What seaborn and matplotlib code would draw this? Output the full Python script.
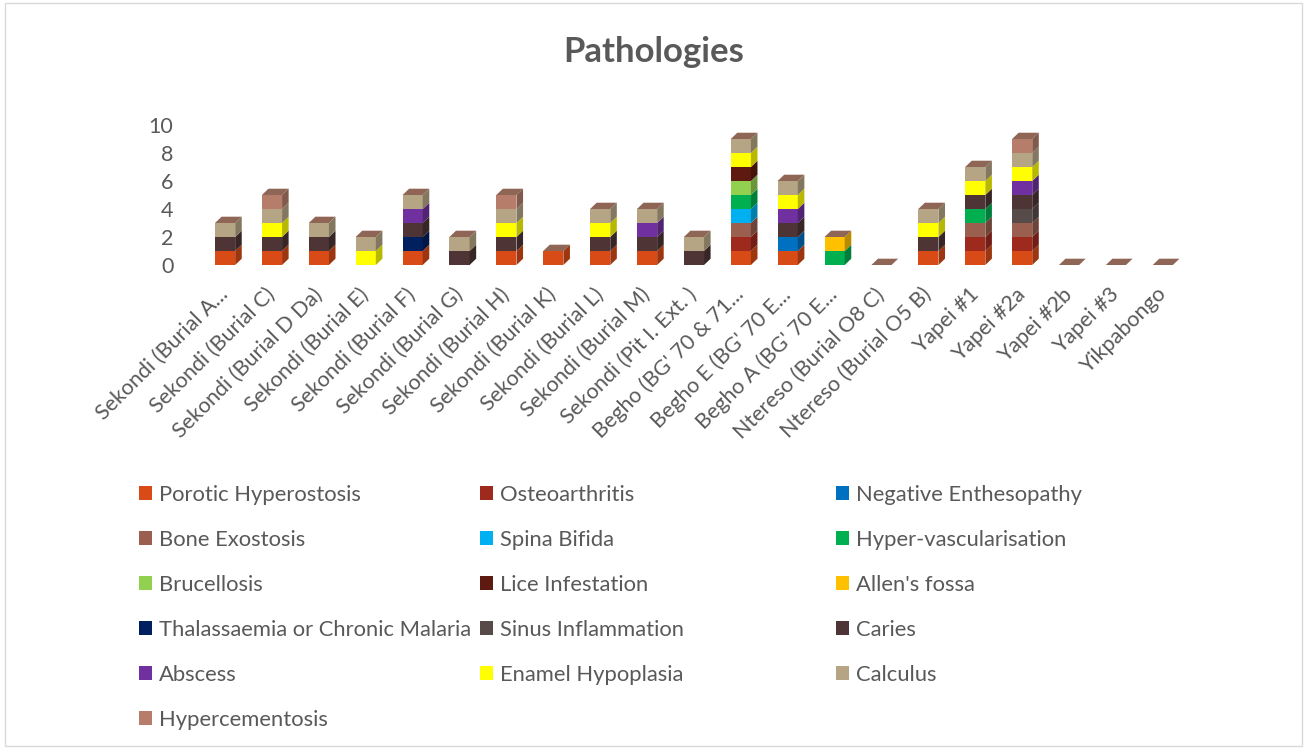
import numpy as np
import pandas as pd
import matplotlib
matplotlib.use("Agg")
import matplotlib.pyplot as plt
import matplotlib.colors as mcolors
from matplotlib.patches import Patch, Polygon, Rectangle
import seaborn as sns

SITES = [
    "Sekondi (Burial A...", "Sekondi (Burial C)", "Sekondi (Burial D Da)",
    "Sekondi (Burial E)", "Sekondi (Burial F)", "Sekondi (Burial G)",
    "Sekondi (Burial H)", "Sekondi (Burial K)", "Sekondi (Burial L)",
    "Sekondi (Burial M)", "Sekondi (Pit I. Ext. )", "Begho (BG' 70 & 71...",
    "Begho E (BG' 70 E...", "Begho A (BG' 70 E...", "Ntereso (Burial O8 C)",
    "Ntereso (Burial O5 B)", "Yapei #1", "Yapei #2a", "Yapei #2b", "Yapei #3",
    "Yikpabongo",
]

PATHOLOGIES = [
    "Porotic Hyperostosis", "Osteoarthritis", "Negative Enthesopathy",
    "Bone Exostosis", "Spina Bifida", "Hyper-vascularisation",
    "Brucellosis", "Lice Infestation", "Allen's fossa",
    "Thalassaemia or Chronic Malaria", "Sinus Inflammation", "Caries",
    "Abscess", "Enamel Hypoplasia", "Calculus",
    "Hypercementosis",
]

COLORS = [
    "#D84B16", "#9E2A1E", "#0070C0",
    "#9A5F4E", "#00B0F0", "#00B050",
    "#92D050", "#5E1A10", "#FFC000",
    "#002060", "#574B4A", "#4E3434",
    "#7030A0", "#FFFF00", "#B6A584",
    "#B57D6A",
]

# counts per site (same order as SITES)
POROTIC        = [1, 1, 1, 0, 1, 0, 1, 1, 1, 1, 0, 1, 1, 0, 0, 1, 1, 1, 0, 0, 0]
OSTEOARTHRITIS = [0, 0, 0, 0, 0, 0, 0, 0, 0, 0, 0, 1, 0, 0, 0, 0, 1, 1, 0, 0, 0]
NEG_ENTHESO    = [0, 0, 0, 0, 0, 0, 0, 0, 0, 0, 0, 0, 1, 0, 0, 0, 0, 0, 0, 0, 0]
BONE_EXOSTOSIS = [0, 0, 0, 0, 0, 0, 0, 0, 0, 0, 0, 1, 0, 0, 0, 0, 1, 1, 0, 0, 0]
SPINA_BIFIDA   = [0, 0, 0, 0, 0, 0, 0, 0, 0, 0, 0, 1, 0, 0, 0, 0, 0, 0, 0, 0, 0]
HYPER_VASC     = [0, 0, 0, 0, 0, 0, 0, 0, 0, 0, 0, 1, 0, 1, 0, 0, 1, 0, 0, 0, 0]
BRUCELLOSIS    = [0, 0, 0, 0, 0, 0, 0, 0, 0, 0, 0, 1, 0, 0, 0, 0, 0, 0, 0, 0, 0]
LICE           = [0, 0, 0, 0, 0, 0, 0, 0, 0, 0, 0, 1, 0, 0, 0, 0, 0, 0, 0, 0, 0]
ALLENS_FOSSA   = [0, 0, 0, 0, 0, 0, 0, 0, 0, 0, 0, 0, 0, 1, 0, 0, 0, 0, 0, 0, 0]
THALASSAEMIA   = [0, 0, 0, 0, 1, 0, 0, 0, 0, 0, 0, 0, 0, 0, 0, 0, 0, 0, 0, 0, 0]
SINUS          = [0, 0, 0, 0, 0, 0, 0, 0, 0, 0, 0, 0, 0, 0, 0, 0, 0, 1, 0, 0, 0]
CARIES         = [1, 1, 1, 0, 1, 1, 1, 0, 1, 1, 1, 0, 1, 0, 0, 1, 1, 1, 0, 0, 0]
ABSCESS        = [0, 0, 0, 0, 1, 0, 0, 0, 0, 1, 0, 0, 1, 0, 0, 0, 0, 1, 0, 0, 0]
ENAMEL_HYPO    = [0, 1, 0, 1, 0, 0, 1, 0, 1, 0, 0, 1, 1, 0, 0, 1, 1, 1, 0, 0, 0]
CALCULUS       = [1, 1, 1, 1, 1, 1, 1, 0, 1, 1, 1, 1, 1, 0, 0, 1, 1, 1, 0, 0, 0]
HYPERCEMENT    = [0, 1, 0, 0, 0, 0, 1, 0, 0, 0, 0, 0, 0, 0, 0, 0, 0, 1, 0, 0, 0]

SERIES = [
    POROTIC, OSTEOARTHRITIS, NEG_ENTHESO, BONE_EXOSTOSIS, SPINA_BIFIDA,
    HYPER_VASC, BRUCELLOSIS, LICE, ALLENS_FOSSA, THALASSAEMIA, SINUS,
    CARIES, ABSCESS, ENAMEL_HYPO, CALCULUS, HYPERCEMENT,
]

YTICKS = [0, 2, 4, 6, 8, 10]
TEXT = "#595959"

# ######################### Long table #########################
rows = []
for i, site in enumerate(SITES):
    for name, vals in zip(PATHOLOGIES, SERIES):
        rows.append({"pos": i, "site": site, "pathology": name, "count": vals[i]})
df = pd.DataFrame(rows)
palette = dict(zip(PATHOLOGIES, COLORS))

# ######################### Figure #########################
sns.set_theme(style="white")
plt.rcParams["font.family"] = ["Lato", "DejaVu Sans"]

fig = plt.figure(figsize=(13.07, 7.49), dpi=100)
ax = fig.add_axes([0.1507, 0.6462, 0.7605, 0.1869])

bar_w = 0.43
# seaborn stacks the first hue level on top -> reverse so Porotic sits at the bottom
sns.histplot(
    data=df, x="pos", weights="count", hue="pathology",
    hue_order=PATHOLOGIES[::-1], palette=palette,
    multiple="stack", discrete=True, shrink=bar_w,
    alpha=1, linewidth=0, legend=False, ax=ax,
)

# fake 3-D depth faces, like the Excel column chart
dx, dy = 0.14, 0.45
for p in list(ax.patches):
    h = p.get_height()
    if h <= 0:
        continue
    x0, y0, w = p.get_x(), p.get_y(), p.get_width()
    side = np.array(mcolors.to_rgb(p.get_facecolor())) * 0.72
    ax.add_patch(Polygon(
        [(x0 + w, y0), (x0 + w + dx, y0 + dy), (x0 + w + dx, y0 + h + dy), (x0 + w, y0 + h)],
        closed=True, facecolor=side, edgecolor="none", zorder=2))

totals = np.sum(np.array(SERIES), axis=0)
for i, t in enumerate(totals):
    x0 = i - bar_w / 2
    ax.add_patch(Polygon(
        [(x0, t), (x0 + dx, t + dy), (x0 + bar_w + dx, t + dy), (x0 + bar_w, t)],
        closed=True, facecolor="#8F6656", edgecolor="none", zorder=3, clip_on=False))

ax.set_xlim(-0.6, len(SITES) - 0.4)
ax.set_ylim(0, 10)
ax.set_yticks(YTICKS)
ax.set_xticks(range(len(SITES)))
ax.set_xticklabels(SITES, rotation=45, ha="right", va="center",
                   rotation_mode="anchor", fontsize=15.5, color=TEXT)
ax.tick_params(axis="y", length=0, pad=17, labelsize=15.5, labelcolor=TEXT)
ax.tick_params(axis="x", length=0, pad=19)
ax.set_xlabel("")
ax.set_ylabel("")
for s in ax.spines.values():
    s.set_visible(False)
ax.patch.set_alpha(0)

fig.text(0.5, 0.931, "Pathologies", ha="center", va="center",
         fontsize=25, fontweight="bold", color=TEXT)

# ######################### Legend (3 columns, row-major) #########################
col_x = [139, 480, 836]
for c in range(3):
    idx = list(range(c, len(PATHOLOGIES), 3))
    handles = [Patch(facecolor=COLORS[i], edgecolor="none") for i in idx]
    labels = [PATHOLOGIES[i] for i in idx]
    fig.legend(handles, labels, loc="upper left",
               bbox_to_anchor=(col_x[c] / 1307, 1 - 485 / 749),
               frameon=False, fontsize=15.8, labelcolor=TEXT,
               handlelength=0.6, handleheight=0.6, handletextpad=0.3,
               labelspacing=1.14, borderpad=0, borderaxespad=0)

fig.patches.append(Rectangle((0.004, 0.004), 0.992, 0.992, transform=fig.transFigure,
                             fill=False, edgecolor="#D9D9D9", linewidth=1))

fig.savefig("out.png", dpi=100)
